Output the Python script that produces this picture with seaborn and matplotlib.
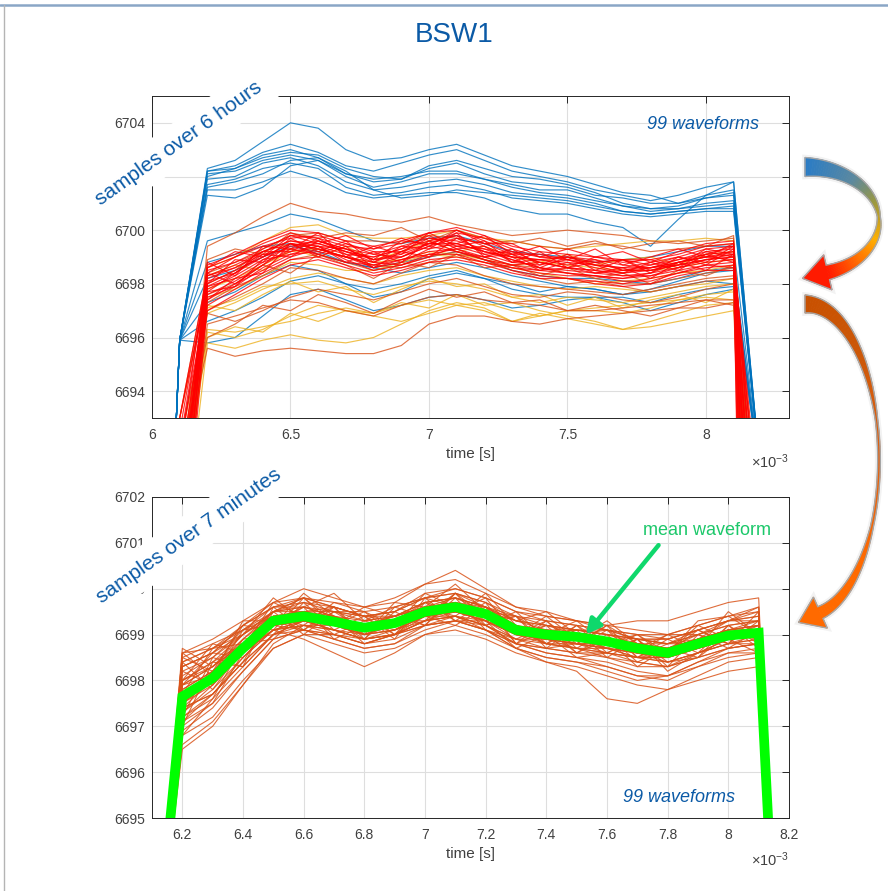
import numpy as np
import pandas as pd
import matplotlib
matplotlib.use("Agg")
import matplotlib.pyplot as plt
import seaborn as sns
from matplotlib.patches import Polygon
from matplotlib.lines import Line2D
from matplotlib.ticker import FuncFormatter

# ---------------- data ----------------
title = "BSW1"
x_label = "time [s]"
x_scale_note = r"$\times10^{-3}$"

# time axis in ms (upper panel, samples over 6 hours)
t_top = [6.0, 6.1, 6.2, 6.3, 6.4, 6.5, 6.6, 6.7, 6.8, 6.9, 7.0, 7.1, 7.2,
         7.3, 7.4, 7.5, 7.6, 7.7, 7.8, 7.9, 8.0, 8.1, 8.2, 8.3]
floor_val = 6600.0
# blue family edge samples at 6.0/6.1 ms and 8.2/8.3 ms
blue_lead = [6672.0, 6695.9]
blue_trail = [6690.6, 6600.0]

# plateau samples 6.2 .. 8.1 ms
top_blue = [
    [6702.3, 6702.6, 6703.3, 6704.0, 6703.8, 6703.0, 6702.6, 6702.7, 6703.0, 6703.2, 6702.8, 6702.4, 6702.2, 6702.0, 6701.7, 6701.4, 6701.3, 6701.0, 6701.2, 6701.4],
    [6702.2, 6702.4, 6702.9, 6703.2, 6702.9, 6702.4, 6702.2, 6702.5, 6702.8, 6703.0, 6702.6, 6702.2, 6702.0, 6701.8, 6701.5, 6701.3, 6701.1, 6701.3, 6701.6, 6701.8],
    [6702.0, 6702.3, 6702.7, 6702.9, 6702.8, 6702.3, 6702.0, 6701.9, 6702.4, 6702.6, 6702.3, 6702.0, 6701.9, 6701.7, 6701.4, 6701.0, 6700.8, 6700.8, 6700.9, 6701.0],
    [6702.1, 6702.2, 6702.6, 6702.8, 6702.6, 6702.0, 6701.6, 6701.8, 6702.1, 6702.1, 6701.9, 6701.7, 6701.5, 6701.5, 6701.2, 6700.9, 6700.7, 6700.8, 6701.0, 6701.1],
    [6701.9, 6702.0, 6702.5, 6702.7, 6702.4, 6701.8, 6701.5, 6701.6, 6701.8, 6701.9, 6701.7, 6701.4, 6701.3, 6701.2, 6701.0, 6700.7, 6700.6, 6700.7, 6700.8, 6700.9],
    [6701.7, 6701.9, 6702.3, 6702.5, 6702.3, 6701.6, 6701.3, 6701.4, 6701.6, 6701.7, 6701.5, 6701.2, 6701.1, 6701.0, 6700.8, 6700.6, 6700.5, 6700.6, 6700.7, 6700.7],
    [6701.6, 6701.8, 6702.1, 6702.6, 6702.7, 6702.2, 6701.5, 6701.2, 6701.3, 6701.5, 6701.4, 6701.3, 6701.2, 6701.1, 6700.9, 6700.7, 6700.6, 6700.7, 6700.8, 6700.8],
    [6701.5, 6701.5, 6701.8, 6702.2, 6701.9, 6701.4, 6701.2, 6701.3, 6701.4, 6701.4, 6701.2, 6700.8, 6700.6, 6700.6, 6700.3, 6700.1, 6699.4, 6700.4, 6701.3, 6701.8],
    [6701.3, 6701.2, 6701.6, 6702.4, 6702.6, 6702.1, 6701.9, 6702.0, 6702.2, 6702.2, 6701.9, 6701.6, 6701.4, 6701.3, 6701.1, 6700.9, 6700.8, 6700.9, 6701.2, 6701.3],
    [6702.2, 6702.3, 6702.8, 6703.0, 6702.7, 6702.1, 6701.8, 6701.9, 6702.3, 6702.5, 6702.1, 6701.8, 6701.7, 6701.6, 6701.3, 6701.2, 6701.0, 6701.0, 6701.3, 6701.5],
    [6699.6, 6699.9, 6700.2, 6700.6, 6700.4, 6700.0, 6699.6, 6699.5, 6699.7, 6699.8, 6699.5, 6699.2, 6699.1, 6699.0, 6698.8, 6698.9, 6699.0, 6699.2, 6699.4, 6699.4],
    [6695.8, 6696.0, 6696.8, 6697.6, 6697.8, 6697.4, 6697.0, 6697.2, 6697.5, 6697.6, 6697.4, 6697.1, 6697.2, 6697.4, 6697.5, 6697.5, 6697.3, 6697.6, 6697.8, 6697.9],
    [6697.3, 6697.7, 6698.3, 6698.7, 6698.5, 6698.0, 6697.5, 6697.7, 6698.2, 6698.4, 6698.2, 6697.8, 6697.6, 6697.5, 6697.5, 6697.3, 6697.0, 6697.3, 6697.6, 6697.8],
    [6698.2, 6698.5, 6699.0, 6699.4, 6699.2, 6698.8, 6698.6, 6698.8, 6699.0, 6699.2, 6698.9, 6698.5, 6698.3, 6698.2, 6698.2, 6698.1, 6698.0, 6698.2, 6698.5, 6698.6],
    [6696.6, 6697.0, 6697.5, 6698.1, 6698.3, 6698.0, 6697.8, 6698.0, 6698.3, 6698.5, 6698.2, 6698.0, 6697.7, 6697.9, 6697.8, 6697.6, 6697.7, 6697.9, 6698.1, 6698.0],
    [6698.8, 6699.1, 6699.4, 6699.5, 6699.1, 6698.8, 6698.6, 6698.4, 6698.6, 6698.8, 6698.6, 6698.3, 6698.1, 6697.9, 6697.8, 6697.6, 6697.8, 6698.1, 6698.4, 6698.5],
]
top_yellow = [
    [6695.8, 6695.6, 6695.9, 6696.1, 6695.9, 6695.8, 6696.0, 6696.5, 6697.0, 6697.3, 6697.1, 6696.6, 6696.9, 6696.7, 6696.5, 6696.3, 6696.4, 6696.6, 6696.8, 6697.0],
    [6696.3, 6696.2, 6696.4, 6696.6, 6696.9, 6697.1, 6696.9, 6697.2, 6697.4, 6697.2, 6697.3, 6697.0, 6696.8, 6697.0, 6697.1, 6697.2, 6697.3, 6697.4, 6697.6, 6697.7],
    [6696.9, 6697.3, 6697.8, 6698.2, 6698.4, 6698.2, 6698.0, 6698.3, 6698.5, 6698.6, 6698.3, 6698.1, 6697.9, 6697.8, 6697.9, 6697.8, 6697.7, 6697.9, 6698.0, 6698.2],
    [6698.6, 6699.0, 6699.6, 6700.1, 6700.2, 6699.8, 6699.7, 6699.7, 6699.8, 6700.0, 6699.7, 6699.6, 6699.4, 6699.3, 6699.4, 6699.5, 6699.6, 6699.6, 6699.7, 6699.6],
    [6697.5, 6697.8, 6698.3, 6698.8, 6698.7, 6698.5, 6698.5, 6698.8, 6699.1, 6699.0, 6698.8, 6698.6, 6698.4, 6698.2, 6698.0, 6698.1, 6698.2, 6698.4, 6698.5, 6698.7],
    [6696.2, 6696.0, 6696.3, 6696.8, 6697.2, 6697.0, 6696.8, 6696.6, 6696.9, 6697.2, 6697.0, 6696.6, 6696.8, 6697.0, 6697.0, 6696.9, 6697.1, 6697.4, 6697.5, 6697.4],
    [6697.8, 6698.2, 6698.7, 6699.2, 6699.3, 6699.0, 6698.8, 6698.9, 6699.2, 6699.1, 6698.9, 6698.7, 6698.8, 6698.7, 6698.6, 6698.5, 6698.5, 6698.6, 6698.8, 6698.9],
    [6697.1, 6697.4, 6697.9, 6698.0, 6698.1, 6697.8, 6697.6, 6697.9, 6698.1, 6698.0, 6697.8, 6697.5, 6697.3, 6697.5, 6697.4, 6697.3, 6697.5, 6697.7, 6697.9, 6698.0],
    [6697.2, 6697.0, 6697.6, 6698.1, 6697.7, 6697.9, 6697.3, 6697.8, 6698.2, 6697.9, 6698.0, 6697.5, 6697.6, 6697.2, 6697.5, 6697.1, 6697.4, 6697.6, 6697.3, 6697.8],
    [6696.0, 6696.4, 6696.2, 6696.9, 6696.6, 6697.0, 6696.9, 6697.3, 6697.1, 6697.6, 6697.2, 6697.3, 6697.0, 6696.8, 6696.6, 6696.3, 6696.6, 6696.9, 6697.2, 6697.3],
    [6698.3, 6698.7, 6698.5, 6699.3, 6699.0, 6699.4, 6698.9, 6699.2, 6699.6, 6699.2, 6699.4, 6699.0, 6698.8, 6699.1, 6698.7, 6698.9, 6699.0, 6698.7, 6699.1, 6699.2],
]
yellow_lead = [6687.0, 6690.0, 6692.0, 6688.0, 6691.0, 6689.0, 6693.0, 6687.5, 6691.0, 6689.0, 6688.5]
yellow_trail = [6686.0, 6675.0, 6689.0, 6680.0, 6668.0, 6687.0, 6678.0, 6684.0, 6679.0, 6688.0, 6671.0]

top_orange = [
    [6699.4, 6699.9, 6700.5, 6701.0, 6700.7, 6700.6, 6700.4, 6700.3, 6700.5, 6700.2, 6700.0, 6699.8, 6699.9, 6700.0, 6699.9, 6699.8, 6699.6, 6699.5, 6699.6, 6699.7],
    [6695.6, 6695.3, 6695.5, 6695.6, 6695.5, 6695.4, 6695.4, 6695.7, 6696.5, 6696.8, 6696.8, 6696.6, 6696.5, 6696.7, 6696.8, 6696.9, 6697.0, 6697.1, 6697.1, 6697.3],
    [6696.5, 6696.8, 6697.1, 6697.4, 6697.3, 6697.0, 6696.8, 6697.2, 6697.5, 6697.6, 6697.4, 6697.3, 6697.2, 6697.0, 6697.0, 6697.1, 6697.2, 6697.3, 6697.4, 6697.4],
    [6697.0, 6697.5, 6698.0, 6698.6, 6698.5, 6698.2, 6698.0, 6698.4, 6698.8, 6698.7, 6698.3, 6698.0, 6697.9, 6697.8, 6697.7, 6697.6, 6697.8, 6698.0, 6698.2, 6698.3],
    [6698.0, 6698.5, 6699.3, 6699.8, 6699.9, 6699.6, 6699.6, 6699.5, 6699.8, 6699.7, 6699.5, 6699.6, 6699.4, 6699.3, 6699.5, 6699.4, 6699.2, 6699.3, 6699.4, 6699.5],
    [6696.9, 6696.6, 6697.0, 6697.5, 6697.8, 6697.6, 6697.4, 6697.7, 6698.0, 6698.2, 6697.9, 6697.6, 6697.5, 6697.7, 6697.6, 6697.4, 6697.3, 6697.5, 6697.8, 6698.0],
    [6698.4, 6698.8, 6699.2, 6699.5, 6699.3, 6699.0, 6698.7, 6698.6, 6698.8, 6699.1, 6699.0, 6698.7, 6698.6, 6698.4, 6698.2, 6698.0, 6698.0, 6698.2, 6698.4, 6698.6],
    [6697.3, 6697.9, 6698.3, 6698.9, 6699.1, 6698.8, 6698.5, 6698.7, 6699.0, 6699.2, 6698.9, 6698.5, 6698.2, 6698.0, 6698.1, 6697.9, 6697.7, 6697.9, 6698.1, 6698.2],
    [6697.6, 6698.0, 6698.7, 6698.4, 6699.1, 6698.7, 6698.2, 6698.8, 6698.6, 6699.1, 6698.6, 6698.7, 6698.3, 6698.6, 6698.2, 6698.4, 6698.0, 6698.5, 6698.3, 6698.7],
    [6698.9, 6699.3, 6699.1, 6699.9, 6699.7, 6699.9, 6699.8, 6700.1, 6699.6, 6700.0, 6699.7, 6699.5, 6699.7, 6699.4, 6699.6, 6699.3, 6699.5, 6699.6, 6699.4, 6699.8],
    [6696.0, 6696.5, 6697.2, 6697.0, 6697.6, 6697.3, 6696.9, 6697.4, 6697.8, 6697.5, 6697.7, 6697.3, 6697.4, 6697.0, 6697.2, 6697.0, 6696.8, 6697.1, 6697.4, 6697.2],
]
orange_lead = [6688.0, 6691.0, 6689.0, 6692.0, 6687.0, 6690.0, 6693.0, 6688.5, 6690.5, 6688.0, 6691.5]
orange_trail = [6684.0, 6670.0, 6688.0, 6676.0, 6686.0, 6662.0, 6680.0, 6689.0, 6682.0, 6666.0, 6687.0]

top_red = [
    [6698.2, 6698.6, 6699.2, 6699.6, 6699.5, 6699.2, 6699.0, 6699.3, 6699.6, 6699.8, 6699.4, 6699.0, 6698.9, 6698.8, 6698.7, 6698.6, 6698.6, 6698.8, 6699.0, 6699.1],
    [6697.8, 6698.3, 6698.9, 6699.4, 6699.6, 6699.3, 6698.9, 6699.1, 6699.5, 6699.4, 6699.1, 6698.8, 6698.7, 6698.9, 6698.6, 6698.4, 6698.5, 6698.7, 6698.9, 6699.0],
    [6698.5, 6698.8, 6699.3, 6699.8, 6699.7, 6699.4, 6699.3, 6699.5, 6699.9, 6700.0, 6699.6, 6699.2, 6699.0, 6698.9, 6698.8, 6698.9, 6698.7, 6698.9, 6699.2, 6699.3],
    [6697.5, 6697.9, 6698.6, 6699.1, 6699.2, 6699.0, 6698.7, 6698.9, 6699.2, 6699.3, 6698.9, 6698.6, 6698.5, 6698.4, 6698.3, 6698.2, 6698.3, 6698.5, 6698.7, 6698.8],
    [6698.0, 6698.5, 6699.0, 6699.5, 6699.3, 6699.0, 6698.8, 6699.2, 6699.7, 6699.6, 6699.3, 6699.1, 6698.8, 6698.6, 6698.5, 6698.4, 6698.6, 6698.9, 6699.1, 6699.2],
    [6697.2, 6697.8, 6698.4, 6698.9, 6699.0, 6698.7, 6698.4, 6698.6, 6698.9, 6699.0, 6698.8, 6698.5, 6698.3, 6698.2, 6698.1, 6698.0, 6698.2, 6698.4, 6698.6, 6698.7],
    [6698.4, 6699.0, 6699.5, 6699.9, 6699.6, 6699.2, 6698.9, 6699.0, 6699.4, 6699.7, 6699.5, 6699.1, 6699.1, 6698.9, 6698.7, 6698.6, 6698.8, 6699.0, 6699.3, 6699.4],
    [6697.9, 6698.2, 6698.8, 6699.2, 6699.4, 6699.1, 6698.6, 6698.8, 6699.3, 6699.5, 6699.2, 6698.9, 6698.6, 6698.5, 6698.4, 6698.3, 6698.4, 6698.6, 6698.8, 6698.9],
    [6697.0, 6697.6, 6698.2, 6698.7, 6698.9, 6698.6, 6698.3, 6698.5, 6698.8, 6698.9, 6698.7, 6698.4, 6698.2, 6698.2, 6698.0, 6697.9, 6698.0, 6698.3, 6698.5, 6698.5],
    [6698.6, 6699.0, 6699.4, 6699.7, 6699.8, 6699.5, 6699.2, 6699.2, 6699.5, 6699.9, 6699.7, 6699.3, 6699.0, 6699.0, 6698.9, 6698.7, 6698.6, 6698.8, 6699.1, 6699.4],
    [6698.1, 6698.4, 6699.1, 6699.3, 6699.1, 6698.8, 6698.7, 6699.0, 6699.4, 6699.2, 6698.9, 6698.7, 6698.8, 6698.6, 6698.4, 6698.5, 6698.6, 6698.7, 6698.9, 6699.1],
    [6697.6, 6698.1, 6698.7, 6699.3, 6699.5, 6699.2, 6698.8, 6698.7, 6699.0, 6699.4, 6699.3, 6698.9, 6698.6, 6698.4, 6698.3, 6698.2, 6698.4, 6698.8, 6699.0, 6698.9],
    [6698.3, 6698.7, 6699.2, 6699.6, 6699.4, 6699.3, 6699.1, 6699.4, 6699.7, 6699.5, 6699.2, 6699.0, 6698.9, 6699.0, 6698.8, 6698.5, 6698.5, 6698.8, 6699.0, 6699.2],
    [6697.4, 6698.0, 6698.5, 6699.0, 6699.3, 6699.0, 6698.6, 6698.9, 6699.1, 6699.1, 6698.8, 6698.6, 6698.4, 6698.3, 6698.3, 6698.1, 6698.1, 6698.4, 6698.7, 6698.6],
    [6698.7, 6699.1, 6699.6, 6700.0, 6699.9, 6699.6, 6699.4, 6699.6, 6699.9, 6700.1, 6699.8, 6699.4, 6699.2, 6699.1, 6699.0, 6698.9, 6698.9, 6699.1, 6699.4, 6699.5],
    [6697.7, 6698.4, 6699.0, 6699.5, 6699.4, 6698.9, 6698.5, 6698.7, 6699.1, 6699.3, 6699.0, 6698.7, 6698.5, 6698.6, 6698.5, 6698.3, 6698.3, 6698.6, 6698.9, 6699.0],
    [6698.0, 6698.9, 6698.8, 6699.7, 6699.2, 6699.6, 6698.8, 6699.4, 6699.3, 6699.9, 6699.0, 6699.3, 6698.7, 6699.1, 6698.5, 6698.9, 6698.4, 6699.0, 6698.7, 6699.3],
    [6698.8, 6698.3, 6699.4, 6699.3, 6699.9, 6699.0, 6699.4, 6699.1, 6699.9, 6699.4, 6699.6, 6698.8, 6699.2, 6698.6, 6699.0, 6698.8, 6698.9, 6698.6, 6699.2, 6699.0],
    [6697.4, 6698.2, 6698.4, 6699.5, 6699.0, 6699.4, 6698.6, 6699.2, 6699.0, 6699.7, 6699.2, 6699.0, 6698.5, 6698.8, 6698.4, 6698.6, 6698.2, 6698.8, 6698.5, 6699.1],
    [6698.3, 6698.6, 6699.1, 6699.0, 6699.6, 6699.3, 6698.9, 6699.6, 6699.5, 6699.5, 6699.8, 6699.1, 6699.4, 6698.9, 6699.3, 6698.7, 6699.0, 6699.3, 6699.0, 6699.5],
    [6697.7, 6697.9, 6698.9, 6699.1, 6699.4, 6698.8, 6699.2, 6698.8, 6699.6, 6699.2, 6699.0, 6699.1, 6698.6, 6699.0, 6698.7, 6698.4, 6698.8, 6698.5, 6699.1, 6698.8],
    [6698.6, 6699.2, 6699.0, 6699.8, 6699.5, 6699.8, 6699.3, 6699.7, 6699.4, 6700.0, 6699.5, 6699.5, 6699.0, 6699.3, 6699.0, 6699.2, 6698.8, 6699.2, 6699.5, 6699.6],
    [6697.9, 6698.4, 6699.2, 6699.2, 6699.7, 6699.1, 6699.0, 6699.3, 6699.8, 6699.3, 6699.4, 6698.8, 6698.9, 6698.7, 6698.9, 6698.5, 6698.7, 6699.0, 6698.8, 6699.4],
    [6698.4, 6698.0, 6698.7, 6699.5, 6699.1, 6699.5, 6699.1, 6699.0, 6699.5, 6699.8, 6699.1, 6699.2, 6698.8, 6698.6, 6698.8, 6698.9, 6698.5, 6698.7, 6699.3, 6699.1],
]
red_lead = [6689.0, 6691.0, 6687.0, 6692.0, 6690.0, 6686.0, 6693.0, 6688.0, 6690.5, 6691.5, 6687.5, 6689.5,
            6692.5, 6688.5, 6690.0, 6686.5, 6691.0, 6689.0, 6687.0, 6692.0, 6690.0, 6688.0, 6693.0, 6689.5]
red_trail = [6680.0, 6686.0, 6670.0, 6688.0, 6660.0, 6684.0, 6676.0, 6689.0, 6650.0, 6682.0, 6672.0, 6687.0,
             6665.0, 6685.0, 6678.0, 6640.0, 6683.0, 6674.0, 6688.0, 6668.0, 6681.0, 6655.0, 6686.0, 6677.0]

# lower panel, samples over 7 minutes
t_bot = [6.1, 6.2, 6.3, 6.4, 6.5, 6.6, 6.7, 6.8, 6.9, 7.0, 7.1, 7.2, 7.3,
         7.4, 7.5, 7.6, 7.7, 7.8, 7.9, 8.0, 8.1, 8.2]
bot_lead = [6690.9]
bot_trail = [6686.0]
bot_waves = [
    [6698.6, 6698.7, 6699.0, 6699.5, 6699.8, 6699.6, 6699.4, 6699.5, 6699.8, 6699.9, 6699.7, 6699.3, 6699.2, 6699.1, 6699.0, 6698.9, 6698.8, 6699.0, 6699.2, 6699.3],
    [6696.5, 6697.0, 6697.9, 6698.7, 6699.0, 6699.0, 6698.9, 6699.0, 6699.2, 6699.3, 6699.1, 6698.8, 6698.7, 6698.6, 6698.5, 6698.4, 6698.3, 6698.5, 6698.7, 6698.8],
    [6697.8, 6698.2, 6698.9, 6699.5, 6699.6, 6699.4, 6699.2, 6699.3, 6699.6, 6699.7, 6699.5, 6699.2, 6699.0, 6699.0, 6698.9, 6698.7, 6698.7, 6698.9, 6699.1, 6699.1],
    [6697.3, 6697.8, 6698.5, 6699.1, 6699.2, 6699.1, 6699.0, 6699.1, 6699.3, 6699.4, 6699.3, 6698.9, 6698.8, 6698.8, 6698.6, 6698.5, 6698.4, 6698.6, 6698.8, 6698.9],
    [6698.2, 6698.5, 6699.1, 6699.6, 6699.7, 6699.5, 6699.3, 6699.4, 6699.7, 6699.8, 6699.6, 6699.4, 6699.3, 6699.2, 6699.1, 6698.9, 6698.9, 6699.1, 6699.3, 6699.4],
    [6697.0, 6697.5, 6698.2, 6698.9, 6699.1, 6698.9, 6698.7, 6698.8, 6699.1, 6699.3, 6699.1, 6698.8, 6698.6, 6698.5, 6698.4, 6698.2, 6698.1, 6698.4, 6698.6, 6698.6],
    [6698.0, 6698.4, 6698.8, 6699.3, 6699.5, 6699.6, 6699.4, 6699.3, 6699.5, 6699.5, 6699.3, 6699.0, 6699.1, 6699.0, 6698.8, 6698.6, 6698.7, 6698.9, 6699.0, 6699.2],
    [6697.5, 6697.9, 6698.6, 6699.2, 6699.3, 6699.2, 6699.1, 6699.3, 6699.6, 6699.8, 6699.6, 6699.2, 6699.0, 6698.8, 6698.7, 6698.6, 6698.5, 6698.7, 6698.9, 6699.0],
    [6698.6, 6698.9, 6699.3, 6699.7, 6700.0, 6699.8, 6699.6, 6699.8, 6700.1, 6700.2, 6699.9, 6699.6, 6699.5, 6699.3, 6699.2, 6699.1, 6699.0, 6699.2, 6699.4, 6699.5],
    [6696.8, 6697.2, 6698.0, 6698.7, 6699.0, 6698.8, 6698.6, 6698.7, 6699.0, 6699.1, 6698.9, 6698.6, 6698.4, 6698.3, 6698.1, 6697.9, 6697.8, 6698.1, 6698.4, 6698.5],
    [6697.9, 6698.3, 6698.9, 6699.4, 6699.4, 6699.3, 6699.2, 6699.3, 6699.5, 6699.6, 6699.5, 6699.1, 6698.9, 6698.9, 6698.8, 6698.7, 6698.6, 6698.7, 6698.9, 6699.0],
    [6697.6, 6698.0, 6698.7, 6699.3, 6699.5, 6699.3, 6699.0, 6699.1, 6699.4, 6699.5, 6699.3, 6699.0, 6699.0, 6699.1, 6699.0, 6698.8, 6698.7, 6698.9, 6699.1, 6699.2],
    [6698.4, 6698.7, 6699.2, 6699.6, 6699.6, 6699.4, 6699.2, 6699.4, 6699.7, 6699.8, 6699.6, 6699.2, 6699.1, 6699.0, 6698.9, 6698.8, 6698.7, 6698.9, 6699.1, 6699.2],
    [6697.2, 6697.6, 6698.3, 6699.0, 6699.2, 6699.1, 6698.9, 6699.0, 6699.3, 6699.4, 6699.2, 6698.9, 6698.7, 6698.6, 6698.6, 6698.4, 6698.3, 6698.5, 6698.7, 6698.8],
    [6697.7, 6698.1, 6698.7, 6699.2, 6699.3, 6699.2, 6699.0, 6699.2, 6699.4, 6699.5, 6699.4, 6699.0, 6698.9, 6698.9, 6698.7, 6698.6, 6698.5, 6698.8, 6699.0, 6699.0],
    [6698.1, 6698.5, 6699.0, 6699.5, 6699.6, 6699.5, 6699.4, 6699.5, 6699.8, 6699.9, 6699.7, 6699.4, 6699.2, 6699.1, 6699.0, 6698.9, 6698.8, 6699.0, 6699.2, 6699.3],
    [6697.4, 6697.7, 6698.4, 6699.0, 6699.1, 6699.0, 6698.8, 6698.9, 6699.2, 6699.3, 6699.2, 6698.9, 6698.9, 6698.8, 6698.7, 6698.5, 6698.4, 6698.6, 6698.8, 6698.8],
    [6698.5, 6698.8, 6699.1, 6699.4, 6699.5, 6699.3, 6699.1, 6699.2, 6699.5, 6699.7, 6699.4, 6699.1, 6698.9, 6698.7, 6698.5, 6698.3, 6698.3, 6698.6, 6698.9, 6699.1],
    [6697.1, 6697.7, 6698.5, 6699.1, 6699.3, 6699.3, 6699.1, 6699.2, 6699.4, 6699.4, 6699.2, 6698.8, 6698.7, 6698.8, 6698.8, 6698.7, 6698.6, 6698.8, 6699.0, 6699.0],
    [6697.9, 6698.1, 6698.6, 6699.2, 6699.3, 6699.1, 6698.9, 6699.0, 6699.3, 6699.6, 6699.5, 6699.1, 6698.8, 6698.7, 6698.6, 6698.5, 6698.5, 6698.7, 6698.9, 6699.1],
    [6698.3, 6698.6, 6699.0, 6699.5, 6699.7, 6699.6, 6699.4, 6699.4, 6699.6, 6699.7, 6699.5, 6699.3, 6699.2, 6699.1, 6699.1, 6699.0, 6698.9, 6699.1, 6699.3, 6699.3],
    [6696.9, 6697.4, 6698.2, 6698.9, 6699.1, 6699.0, 6698.8, 6699.0, 6699.2, 6699.3, 6699.1, 6698.7, 6698.5, 6698.4, 6698.3, 6698.1, 6698.1, 6698.4, 6698.7, 6698.8],
    [6697.6, 6698.2, 6698.8, 6699.3, 6699.4, 6699.2, 6699.0, 6699.1, 6699.5, 6699.6, 6699.4, 6699.0, 6698.9, 6698.9, 6698.8, 6698.6, 6698.5, 6698.7, 6698.9, 6699.0],
    [6698.0, 6698.3, 6698.8, 6699.3, 6699.3, 6699.1, 6698.9, 6699.1, 6699.4, 6699.5, 6699.3, 6699.0, 6698.9, 6698.8, 6698.7, 6698.6, 6698.6, 6698.8, 6699.0, 6699.1],
    [6697.3, 6697.9, 6698.6, 6699.1, 6699.3, 6699.2, 6699.0, 6699.2, 6699.5, 6699.5, 6699.3, 6699.0, 6698.8, 6698.7, 6698.7, 6698.6, 6698.4, 6698.6, 6698.8, 6698.9],
    [6698.3, 6698.6, 6699.2, 6699.7, 6699.8, 6699.6, 6699.4, 6699.5, 6699.9, 6700.0, 6699.8, 6699.5, 6699.3, 6699.2, 6699.1, 6699.0, 6699.0, 6699.2, 6699.4, 6699.6],
    [6697.7, 6698.0, 6698.6, 6699.1, 6699.2, 6699.0, 6698.8, 6699.0, 6699.3, 6699.4, 6699.2, 6698.8, 6698.6, 6698.5, 6698.3, 6698.1, 6698.0, 6698.3, 6698.6, 6698.7],
    [6697.8, 6698.2, 6698.8, 6699.4, 6699.5, 6699.4, 6699.3, 6699.4, 6699.6, 6699.6, 6699.4, 6699.1, 6699.1, 6699.1, 6699.0, 6698.9, 6698.8, 6698.9, 6699.0, 6699.1],
    [6696.6, 6697.1, 6697.9, 6698.8, 6699.2, 6699.2, 6699.1, 6699.2, 6699.4, 6699.5, 6699.3, 6699.0, 6698.9, 6698.8, 6698.8, 6698.8, 6698.7, 6698.9, 6699.1, 6699.1],
    [6698.4, 6698.7, 6699.1, 6699.5, 6699.5, 6699.3, 6699.2, 6699.3, 6699.6, 6699.7, 6699.6, 6699.3, 6699.1, 6699.0, 6698.9, 6698.7, 6698.7, 6698.9, 6699.1, 6699.2],
    [6697.5, 6698.0, 6698.7, 6699.2, 6699.3, 6699.1, 6698.9, 6699.0, 6699.3, 6699.5, 6699.4, 6699.1, 6699.0, 6698.9, 6698.8, 6698.7, 6698.6, 6698.8, 6699.0, 6699.0],
    [6697.2, 6697.7, 6698.4, 6699.0, 6699.3, 6699.3, 6699.2, 6699.4, 6699.7, 6699.8, 6699.5, 6699.1, 6698.8, 6698.7, 6698.6, 6698.5, 6698.5, 6698.7, 6698.9, 6699.0],
    [6697.9, 6698.3, 6698.8, 6699.2, 6699.1, 6698.9, 6698.7, 6698.8, 6699.2, 6699.4, 6699.1, 6698.7, 6698.4, 6698.2, 6697.6, 6697.5, 6697.8, 6698.0, 6698.2, 6698.3],
    [6697.4, 6698.0, 6698.7, 6699.1, 6698.9, 6698.6, 6698.3, 6698.6, 6699.0, 6699.2, 6699.0, 6698.7, 6698.5, 6698.4, 6698.2, 6698.0, 6698.1, 6698.3, 6698.5, 6698.6],
    [6698.0, 6698.4, 6699.0, 6699.4, 6699.5, 6699.5, 6699.5, 6699.6, 6699.8, 6700.0, 6699.8, 6699.5, 6699.4, 6699.3, 6699.2, 6699.3, 6699.3, 6699.5, 6699.7, 6699.8],
    [6698.3, 6698.6, 6699.2, 6699.6, 6699.8, 6699.7, 6699.6, 6699.7, 6700.1, 6700.4, 6700.0, 6699.6, 6699.4, 6699.3, 6699.1, 6698.9, 6698.9, 6699.1, 6699.3, 6699.4],
    [6698.2, 6697.9, 6698.9, 6699.0, 6699.7, 6699.1, 6699.4, 6698.9, 6699.8, 6699.3, 6699.7, 6698.8, 6699.3, 6698.7, 6699.1, 6698.5, 6698.9, 6698.6, 6699.2, 6698.8],
    [6697.0, 6698.4, 6698.3, 6699.6, 6699.1, 6699.6, 6698.9, 6699.5, 6699.2, 6699.9, 6699.2, 6699.4, 6698.7, 6699.2, 6698.6, 6698.9, 6698.3, 6699.0, 6698.8, 6699.3],
    [6698.5, 6698.2, 6699.2, 6699.1, 6699.8, 6699.3, 6698.9, 6699.6, 6699.4, 6699.5, 6699.8, 6699.0, 6699.3, 6698.8, 6699.2, 6698.5, 6698.8, 6699.1, 6698.8, 6699.5],
    [6697.4, 6697.7, 6698.4, 6699.5, 6699.0, 6699.5, 6699.4, 6699.0, 6699.7, 6699.3, 6699.3, 6699.4, 6698.8, 6699.1, 6698.5, 6698.9, 6698.4, 6698.5, 6699.2, 6698.7],
    [6697.9, 6698.6, 6698.5, 6699.2, 6699.6, 6698.9, 6699.2, 6699.4, 6699.2, 6699.8, 6699.1, 6698.9, 6699.2, 6698.6, 6698.9, 6698.3, 6698.7, 6699.0, 6698.7, 6699.1],
    [6698.7, 6698.3, 6699.0, 6699.8, 6699.3, 6699.6, 6699.0, 6699.7, 6699.6, 6700.1, 6699.5, 6699.4, 6699.0, 6699.3, 6698.8, 6699.0, 6698.6, 6699.3, 6699.4, 6699.0],
    [6696.8, 6697.6, 6698.8, 6698.9, 6699.5, 6699.0, 6699.3, 6699.1, 6699.4, 6699.2, 6699.6, 6698.8, 6699.1, 6698.6, 6699.0, 6698.4, 6698.7, 6698.5, 6699.0, 6698.9],
    [6698.0, 6698.8, 6698.6, 6699.4, 6699.2, 6699.7, 6699.5, 6699.2, 6699.9, 6699.6, 6699.2, 6699.5, 6698.9, 6699.0, 6698.7, 6699.0, 6698.5, 6698.9, 6699.3, 6699.5],
    [6697.5, 6698.0, 6699.1, 6699.2, 6699.9, 6699.4, 6699.0, 6699.3, 6699.3, 6699.9, 6699.6, 6699.0, 6699.4, 6698.9, 6699.3, 6698.8, 6698.6, 6699.2, 6698.9, 6699.2],
    [6698.4, 6697.8, 6698.7, 6699.7, 6699.4, 6699.2, 6699.6, 6699.4, 6699.6, 6699.4, 6699.9, 6699.2, 6698.8, 6699.2, 6698.8, 6698.6, 6699.0, 6698.7, 6699.5, 6699.0],
    [6697.2, 6698.5, 6698.3, 6699.0, 6699.3, 6699.4, 6698.8, 6699.0, 6699.5, 6699.7, 6699.3, 6698.7, 6699.0, 6698.5, 6698.6, 6698.9, 6698.2, 6698.6, 6698.9, 6698.6],
    [6698.6, 6698.1, 6699.3, 6699.3, 6699.6, 6699.9, 6699.3, 6699.6, 6699.8, 6699.6, 6699.6, 6699.3, 6699.5, 6699.0, 6699.1, 6698.7, 6699.0, 6699.0, 6699.3, 6699.6],
    [6697.7, 6698.7, 6698.8, 6699.5, 6699.8, 6699.2, 6699.5, 6699.0, 6699.4, 6699.9, 6699.4, 6699.2, 6698.9, 6698.8, 6699.2, 6698.8, 6698.8, 6698.8, 6699.1, 6699.3],
    [6697.1, 6697.5, 6698.6, 6699.3, 6699.1, 6699.5, 6699.1, 6699.3, 6699.7, 6699.5, 6699.5, 6699.0, 6699.2, 6699.0, 6698.7, 6698.5, 6698.6, 6699.1, 6698.8, 6699.0],
]
mean_wave = [6690.9, 6697.65, 6698.05, 6698.7, 6699.3, 6699.4, 6699.28, 6699.15,
             6699.25, 6699.5, 6699.6, 6699.45, 6699.1, 6699.0, 6698.95, 6698.85,
             6698.7, 6698.6, 6698.8, 6698.98, 6699.04, 6686.0]

top_xticks = [6, 6.5, 7, 7.5, 8]
top_yticks = [6694, 6696, 6698, 6700, 6702, 6704]
bot_xticks = [6.2, 6.4, 6.6, 6.8, 7, 7.2, 7.4, 7.6, 7.8, 8, 8.2]
bot_yticks = [6695, 6696, 6697, 6698, 6699, 6700, 6701, 6702]

# ---------------- build tables ----------------
recs = []
wid = 0
for row in top_blue:
    for tt, v in zip(t_top, blue_lead + row + blue_trail):
        recs.append((wid, "blue", tt, v))
    wid += 1
for grp, rows, leads, trails in [("yellow", top_yellow, yellow_lead, yellow_trail),
                                 ("orange", top_orange, orange_lead, orange_trail),
                                 ("red", top_red, red_lead, red_trail)]:
    for row, ld, tr in zip(rows, leads, trails):
        for tt, v in zip(t_top, [floor_val, ld] + row + [tr, floor_val]):
            recs.append((wid, grp, tt, v))
        wid += 1
df_top = pd.DataFrame(recs, columns=["wave", "group", "t", "v"])

recs = []
for i, row in enumerate(bot_waves):
    for tt, v in zip(t_bot, bot_lead + row + bot_trail):
        recs.append((i, tt, v))
df_bot = pd.DataFrame(recs, columns=["wave", "t", "v"])
df_mean = pd.DataFrame({"t": t_bot, "v": mean_wave})

# ---------------- style ----------------
sns.set_theme(style="white")
plt.rcParams["font.family"] = ["Liberation Sans", "DejaVu Sans"]
plt.rcParams["mathtext.default"] = "regular"

W, H = 888, 891
fig = plt.figure(figsize=(W / 100, H / 100), dpi=100)
fig.patch.set_facecolor("white")

def fx(x):
    return x / W

def fy(y):
    return 1 - y / H

ax1 = fig.add_axes([fx(152), fy(418), (789 - 152) / W, (418 - 96) / H])
ax2 = fig.add_axes([fx(152), fy(818), (789 - 152) / W, (818 - 497) / H])

pal = {"blue": "#0072BD", "yellow": "#EDB120", "orange": "#D95319", "red": "#FF0000"}
sns.lineplot(data=df_top, x="t", y="v", hue="group", units="wave", estimator=None,
             hue_order=["blue", "yellow", "orange", "red"], palette=pal,
             lw=0.85, alpha=0.8, legend=False, ax=ax1)
sns.lineplot(data=df_bot, x="t", y="v", units="wave", estimator=None,
             color="#D95319", lw=0.8, alpha=0.85, legend=False, ax=ax2)
sns.lineplot(data=df_mean, x="t", y="v", color="#00FF00", lw=7, ax=ax2,
             solid_joinstyle="miter")

fmt = FuncFormatter(lambda v, p: f"{v:g}")
for ax, xl, yl, xt, yt in [(ax1, (6.0, 8.3), (6693, 6705), top_xticks, top_yticks),
                           (ax2, (6.1, 8.2), (6695, 6702), bot_xticks, bot_yticks)]:
    ax.set_xlim(*xl)
    ax.set_ylim(*yl)
    ax.set_xticks(xt)
    ax.set_yticks(yt)
    ax.xaxis.set_major_formatter(fmt)
    ax.yaxis.set_major_formatter(fmt)
    ax.grid(True, color="#dedede", lw=0.8)
    ax.set_axisbelow(True)
    ax.tick_params(direction="in", length=5, width=0.7, top=True, right=True,
                   colors="#262626", labelcolor="#404040", labelsize=10)
    ax.tick_params(axis="x", pad=7)
    ax.tick_params(axis="y", pad=5)
    for s in ax.spines.values():
        s.set_color("#262626")
        s.set_linewidth(0.7)
    ax.set_xlabel(x_label, fontsize=11, color="#404040", labelpad=4)
    ax.set_ylabel("")
    ax.set_facecolor("white")

fig.text(fx(789), fy(462), x_scale_note, ha="right", va="center", fontsize=10.5, color="#404040")
fig.text(fx(789), fy(860), x_scale_note, ha="right", va="center", fontsize=10.5, color="#404040")

# title and annotations
blue_txt = "#0b5aa6"
fig.text(fx(454), fy(35), title, ha="center", va="center", fontsize=20, color=blue_txt)
ax1.text(0.865, 0.91, "99 waveforms", transform=ax1.transAxes, ha="center", va="center",
         fontsize=13, style="italic", color=blue_txt)
ax2.text(0.828, 0.065, "99 waveforms", transform=ax2.transAxes, ha="center", va="center",
         fontsize=13, style="italic", color=blue_txt)
ax2.text(7.93, 6701.28, "mean waveform", ha="center", va="center", fontsize=13, color="#1cc86a")
ax2.annotate("", xy=(7.53, 6699.0), xytext=(7.77, 6700.95),
             arrowprops=dict(arrowstyle="-|>", lw=3.2, color="#0fd86c", mutation_scale=22,
                             shrinkA=0, shrinkB=0))

box = dict(boxstyle="square,pad=0.5", fc="white", ec="none")
fig.text(fx(179), fy(143), "samples over 6 hours", rotation=35.5, rotation_mode="anchor",
         ha="center", va="center", fontsize=15, color=blue_txt, bbox=box, zorder=10)
fig.text(fx(189), fy(536), "samples over 7 minutes", rotation=35, rotation_mode="anchor",
         ha="center", va="center", fontsize=15, color=blue_txt, bbox=box, zorder=10)

# slide frame
fig.add_artist(Line2D([0, 1], [fy(5), fy(5)], transform=fig.transFigure, color="#8aa6c6", lw=1.8))
fig.add_artist(Line2D([fx(4), fx(4)], [0, fy(5)], transform=fig.transFigure, color="#b4b4b4", lw=1.0))

# ---------------- curved block arrows ----------------
def hex2rgb(h):
    h = h.lstrip("#")
    return np.array([int(h[i:i + 2], 16) / 255 for i in (0, 2, 4)])

def ribbon_arrow(cx, cy, a, b, th0, th1, wk, wv, ck, cv, head_len, head_w, n=90):
    th = np.linspace(th0, th1, n)
    r = np.radians(th)
    P = np.stack([cx + a * np.cos(r), cy - b * np.sin(r)], 1)
    T = np.stack([-a * np.sin(r), -b * np.cos(r)], 1)
    T /= np.linalg.norm(T, axis=1)[:, None]
    N = np.stack([-T[:, 1], T[:, 0]], 1)
    w = np.interp(th, wk, wv)
    crgb = np.array([hex2rgb(c) for c in cv])
    cols = np.stack([np.interp(th, ck, crgb[:, k]) for k in range(3)], 1)
    L = P + N * w[:, None] / 2
    R = P - N * w[:, None] / 2
    tofig = lambda pts: [(fx(p[0]), fy(p[1])) for p in pts]
    d = -T[-1]
    tip = P[-1] + d * head_len
    b1 = P[-1] + N[-1] * head_w / 2
    b2 = P[-1] - N[-1] * head_w / 2
    outline = list(L) + [b1, tip, b2] + list(R[::-1])
    fig.add_artist(Polygon(tofig(outline), closed=True, transform=fig.transFigure,
                           fc="none", ec="#000000", lw=4, alpha=0.05, zorder=4))
    for i in range(n - 1):
        c = (cols[i] + cols[i + 1]) / 2
        fig.add_artist(Polygon(tofig([L[i], L[i + 1], R[i + 1], R[i]]), closed=True,
                               transform=fig.transFigure, fc=c, ec=c, lw=0.6, zorder=5))
    fig.add_artist(Polygon(tofig([b1, tip, b2]), closed=True, transform=fig.transFigure,
                           fc=cols[-1], ec=cols[-1], lw=0.6, zorder=5))
    fig.add_artist(Polygon(tofig(outline), closed=True, transform=fig.transFigure,
                           fc="none", ec="#a6a6a6", lw=1.0, zorder=6))

ribbon_arrow(805, 221, 74, 54, 90, -72,
             [-72, -20, 5, 40, 90], [15, 7, 3, 10, 19],
             [-72, -45, -20, 0, 20, 50, 90],
             ["#ff1a00", "#ff7000", "#ffb000", "#c8a020", "#9a9840", "#5a88a0", "#2a7cc6"],
             head_len=26, head_w=36)
ribbon_arrow(805, 460, 74, 156, 90, -78,
             [-78, -55, -25, 15, 45, 90], [13, 9, 3, 2.5, 8, 18],
             [-78, -40, 0, 40, 90],
             ["#ff6a00", "#ff6a00", "#e06010", "#cc5808", "#c85000"],
             head_len=24, head_w=34)

fig.savefig("out.png", dpi=100, facecolor="white")
